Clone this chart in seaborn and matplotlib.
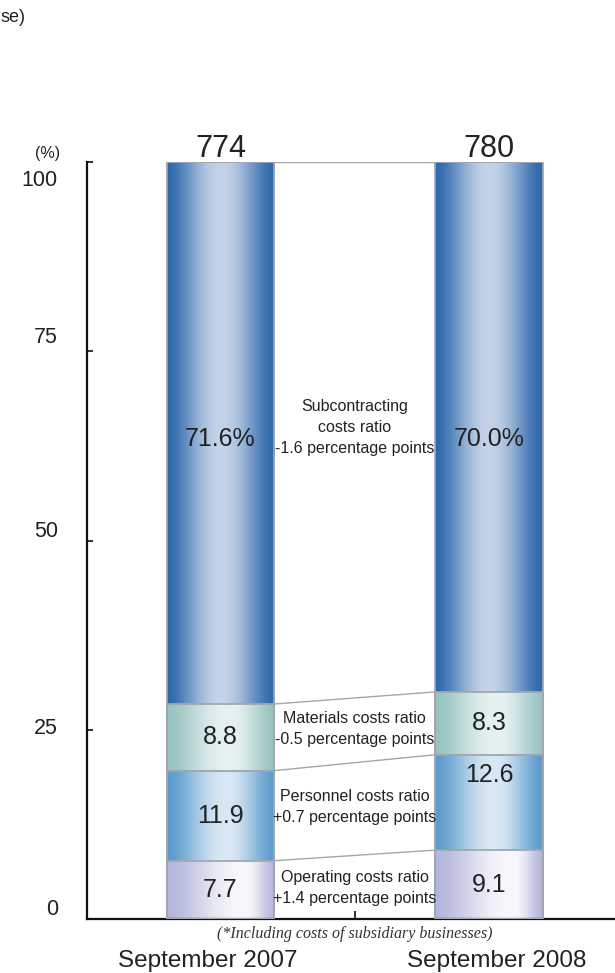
import numpy as np
import pandas as pd
import matplotlib
matplotlib.use("Agg")
import matplotlib.pyplot as plt
from matplotlib import font_manager
from matplotlib.colors import to_rgb
import seaborn as sns

# ---- data -------------------------------------------------------------
periods = ["September 2007", "September 2008"]
categories = ["Operating", "Personnel", "Materials", "Subcontracting"]  # bottom -> top
ratios_2007 = [7.7, 11.9, 8.8, 71.6]
ratios_2008 = [9.1, 12.6, 8.3, 70.0]
totals = [774, 780]
change_notes = [
    "Operating costs ratio\n+1.4 percentage points",
    "Personnel costs ratio\n+0.7 percentage points",
    "Materials costs ratio\n-0.5 percentage points",
    "Subcontracting\ncosts ratio\n-1.6 percentage points",
]
y_ticks = [0, 25, 50, 75, 100]
footnote = "(*Including costs of subsidiary businesses)"
corner_text = "se)"

# ---- styling ----------------------------------------------------------
sns.set_theme(style="white")


def pick_font(names):
    for n in names:
        try:
            font_manager.findfont(n, fallback_to_default=False)
            return n
        except Exception:
            continue
    return "DejaVu Sans"


SANS = pick_font(["Liberation Sans Narrow", "Liberation Sans", "Roboto"])
plt.rcParams["font.family"] = [SANS, "DejaVu Sans"]
TXT = "#222222"

# horizontal shading per cost layer: (edge colour, highlight colour, highlight position)
shades = {
    "Subcontracting": ("#2e68ac", "#c4d3e8", 0.50),
    "Materials": ("#98c3c1", "#e6f2f1", 0.58),
    "Personnel": ("#5b9bcd", "#d9e8f4", 0.55),
    "Operating": ("#b4b6dc", "#f8f8fc", 0.72),
}


def gradient_row(edge, light, peak, n=256):
    t = np.linspace(0, 1, n)
    w = np.where(t <= peak, t / peak, (1 - t) / (1 - peak))
    w = np.sin(w * np.pi / 2) ** 1.6
    e, l = np.array(to_rgb(edge)), np.array(to_rgb(light))
    return (e[None, :] * (1 - w[:, None]) + l[None, :] * w[:, None])[None, :, :]


df = pd.DataFrame({
    "period": np.repeat(periods, len(categories)),
    "category": categories * len(periods),
    "ratio": ratios_2007 + ratios_2008,
})
df["top"] = df.groupby("period")["ratio"].cumsum()
df["base"] = df["top"] - df["ratio"]

fig = plt.figure(figsize=(6.15, 9.73), dpi=100)
ax = fig.add_axes([87 / 615, 1 - 919 / 973, 1 - 87 / 615, 757 / 973])

BAR_W = 0.4
EDGE = "#a2a6ad"

# stacked bars: draw cumulative heights from the top layer down
for cat in reversed(categories):
    sub = df[df["category"] == cat]
    n0 = len(ax.patches)
    sns.barplot(data=sub, x="period", y="top", order=periods, width=BAR_W,
                color="white", edgecolor=EDGE, linewidth=1.3, ax=ax, zorder=3)
    new = sorted(ax.patches[n0:], key=lambda p: p.get_x())
    edge, light, peak = shades[cat]
    img = gradient_row(edge, light, peak)
    for p, (_, row) in zip(new, sub.set_index("period").loc[periods].iterrows()):
        p.set_facecolor("none")
        x0, w = p.get_x(), p.get_width()
        ax.imshow(img, extent=[x0, x0 + w, row["base"], row["top"]],
                  aspect="auto", interpolation="bilinear", zorder=2)

# connector lines between matching layer boundaries
cum07 = np.concatenate([[0], np.cumsum(ratios_2007)])
cum08 = np.concatenate([[0], np.cumsum(ratios_2008)])
for a, b in zip(cum07[1:], cum08[1:]):
    ax.plot([BAR_W / 2, 1 - BAR_W / 2], [a, b], color="#a5a5a5", lw=1.0, zorder=1)

# value labels inside the segments
for i, ratios in enumerate([ratios_2007, ratios_2008]):
    cum = np.concatenate([[0], np.cumsum(ratios)])
    for j, v in enumerate(ratios):
        if categories[j] == "Subcontracting":
            label, y, fs = f"{v:.1f}%", 63.4, 18
        else:
            label, y, fs = f"{v:.1f}", (cum[j] + cum[j + 1]) / 2, 18
            if i == 1 and categories[j] == "Personnel":
                y = cum[j + 1] - 2.7
        ax.text(i, y, label, ha="center", va="center", fontsize=fs,
                color=TXT, zorder=4)
    ax.text(i, 100.7, f"{totals[i]}", ha="center", va="baseline",
            fontsize=22, color=TXT, clip_on=False)

# change notes between the bars
note_y = [4.1, 14.8, 25.1, 64.9]
for txt, y in zip(change_notes, note_y):
    ax.text(0.5, y, txt, ha="center", va="center", fontsize=11.5,
            linespacing=1.5, color=TXT, zorder=4)

# axes
ax.set_xlim(-0.497, 1.469)
ax.set_ylim(0, 100)
ax.set_xlabel("")
ax.set_ylabel("")
sns.despine(ax=ax, top=True, right=True)
for s in ("left", "bottom"):
    ax.spines[s].set_color("#111111")
    ax.spines[s].set_linewidth(1.6)

# y ticks point inward; their labels sit slightly off the tick marks
ax.set_yticks(y_ticks)
ax.set_yticklabels([])
ax.tick_params(axis="y", direction="in", length=4, width=1.2, color="#111111",
               left=True)
label_y = [1.2, 25.2, 51.2, 76.8, 97.6]
for t, y in zip(y_ticks, label_y):
    ax.text(-0.605, y, str(t), ha="right", va="center", fontsize=15.5,
            color=TXT, clip_on=False)

ax.set_xticks(range(len(periods)))
ax.set_xticklabels([])
ax.tick_params(axis="x", which="major", length=0)
ax.set_xticks([0.5], minor=True)
ax.tick_params(axis="x", which="minor", direction="in", length=5.5, width=1.2,
               color="#111111", bottom=True)

label_dx = [-0.048, 0.027]
for i, (p, dx) in enumerate(zip(periods, label_dx)):
    ax.text(i + dx, -6.4, p, ha="center", va="baseline", fontsize=17.5,
            color=TXT, clip_on=False)

ax.text(0.5, -2.55, footnote, ha="center", va="baseline", fontsize=11.5,
        family=["Liberation Serif", "DejaVu Serif"], style="italic",
        color="#333333", clip_on=False)

fig.text(60 / 615, 1 - 153 / 973, "(%)", ha="right", va="center",
         fontsize=11.5, color=TXT)
fig.text(0.5 / 615, 1 - 18 / 973, corner_text, ha="left",
         va="center", fontsize=13, color=TXT)

fig.savefig("out.png", dpi=100)
